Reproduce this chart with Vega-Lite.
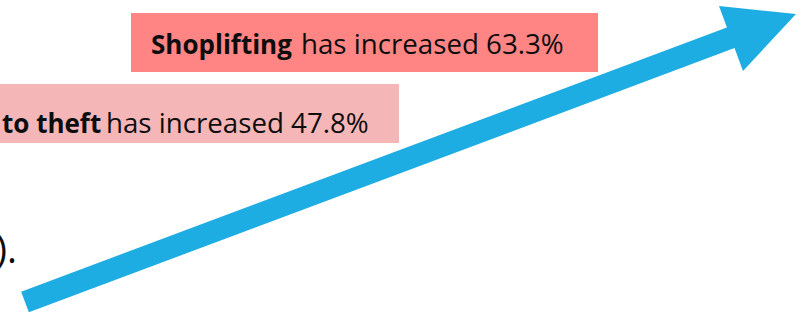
{
  "$schema": "https://vega.github.io/schema/vega-lite/v6.json",
  "width": 810,
  "height": 313,
  "autosize": "none",
  "padding": 0,
  "background": "white",
  "config": {"view": {"stroke": null}},
  "datasets": {
    "boxes": [
      {"x1": 131, "x2": 598, "y1": 13, "y2": 72, "color": "#FF8585"},
      {"x1": 0, "x2": 399, "y1": 84, "y2": 143, "color": "#F4B6B7"}
    ],
    "shaft": [{"x1": 25, "y1": 302, "x2": 738, "y2": 35}],
    "head": [{"x": 753, "y": 30}],
    "boldLabels": [
      {"x": 151, "y": 54, "text": "Shoplifting"},
      {"x": 2, "y": 133, "text": "to theft"}
    ],
    "plainLabels": [
      {"x": 301, "y": 54, "text": "has increased 63.3%"},
      {"x": 106, "y": 133, "text": "has increased 47.8%"}
    ],
    "fragment": [{"x": 17, "y": 263, "text": ")."}]
  },
  "layer": [
    {
      "data": {"name": "boxes"},
      "mark": {"type": "rect"},
      "encoding": {
        "x": {"field": "x1", "type": "quantitative", "scale": {"domain": [0, 810], "nice": false, "zero": false}, "axis": null},
        "x2": {"field": "x2"},
        "y": {"field": "y1", "type": "quantitative", "scale": {"domain": [0, 313], "nice": false, "zero": false, "reverse": true}, "axis": null},
        "y2": {"field": "y2"},
        "color": {"field": "color", "type": "nominal", "scale": null, "legend": null}
      }
    },
    {
      "data": {"name": "shaft"},
      "mark": {"type": "rule", "color": "#1EADE3", "strokeWidth": 22, "strokeCap": "butt"},
      "encoding": {
        "x": {"field": "x1", "type": "quantitative"},
        "y": {"field": "y1", "type": "quantitative"},
        "x2": {"field": "x2"},
        "y2": {"field": "y2"}
      }
    },
    {
      "data": {"name": "head"},
      "mark": {"type": "point", "filled": true, "opacity": 1, "color": "#1EADE3", "size": 10000, "strokeWidth": 0,
               "shape": "M-0.68,-0.48L0.86,-0.32L-0.2,0.82Z"},
      "encoding": {
        "x": {"field": "x", "type": "quantitative"},
        "y": {"field": "y", "type": "quantitative"}
      }
    },
    {
      "data": {"name": "boldLabels"},
      "mark": {"type": "text", "font": "Open Sans", "fontWeight": "bold", "fontSize": 26, "align": "left", "baseline": "alphabetic", "color": "#0d0d0d"},
      "encoding": {
        "x": {"field": "x", "type": "quantitative"},
        "y": {"field": "y", "type": "quantitative"},
        "text": {"field": "text"}
      }
    },
    {
      "data": {"name": "plainLabels"},
      "mark": {"type": "text", "font": "Open Sans", "fontSize": 27.7, "align": "left", "baseline": "alphabetic", "color": "#0d0d0d"},
      "encoding": {
        "x": {"field": "x", "type": "quantitative"},
        "y": {"field": "y", "type": "quantitative"},
        "text": {"field": "text"}
      }
    },
    {
      "data": {"name": "fragment"},
      "mark": {"type": "text", "font": "Open Sans", "fontSize": 38, "align": "right", "baseline": "alphabetic", "color": "#0d0d0d"},
      "encoding": {
        "x": {"field": "x", "type": "quantitative"},
        "y": {"field": "y", "type": "quantitative"},
        "text": {"field": "text"}
      }
    }
  ]
}
